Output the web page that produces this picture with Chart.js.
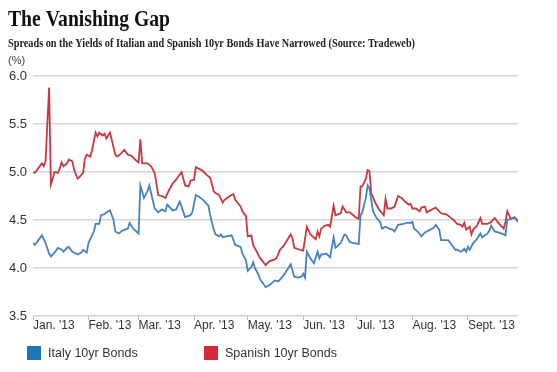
<!DOCTYPE html>
<html><head><meta charset="utf-8">
<script src="https://cdn.jsdelivr.net/npm/chart.js@4.4.1/dist/chart.umd.min.js"></script>
<style>html,body{margin:0;padding:0;background:#fff;overflow:hidden}#wrap{width:557px;height:372px;position:relative}</style>
</head><body><div id="wrap"><canvas id="c" width="557" height="372"></canvas></div>
<script>
const TITLE = 'The Vanishing Gap';
const SUBTITLE = 'Spreads on the Yields of Italian and Spanish 10yr Bonds Have Narrowed (Source: Tradeweb)';
const UNIT = '(%)';
const monthLabels = ["Jan. '13", "Feb. '13", "Mar. '13", "Apr. '13", "May. '13", "Jun. '13", "Jul. '13", "Aug. '13", "Sept. '13"];
const monthStartDays = [0, 31, 59, 90, 120, 151, 181, 212, 243];
const yTicks = [3.5, 4.0, 4.5, 5.0, 5.5, 6.0];
const seriesNames = ['Italy 10yr Bonds', 'Spanish 10yr Bonds'];

// day offsets from 1 Jan 2013 and yields (%)
const italyDays = [0,1,3,5,7,9,10,12,14,16,17,19,20,22,25,27,28,30,31,32,34,35,37,38,40,41,43,45,46,48,50,53,54,56,59,60,62,64,65,68,70,72,74,75,77,78,80,82,85,88,89,91,93,95,98,99,101,102,104,105,106,108,111,112,113,116,117,119,120,122,123,124,126,127,130,132,134,135,137,139,141,144,146,148,150,151,152,153,155,157,159,160,161,164,166,168,169,172,174,175,177,179,182,183,184,186,187,188,190,192,194,195,197,199,201,202,204,207,209,211,212,213,215,217,219,222,224,225,227,228,230,232,234,236,237,239,240,241,242,243,244,246,248,250,251,254,255,256,258,260,263,264,265,268,269,271];
const italyYield = [4.26,4.24,4.29,4.34,4.26,4.15,4.12,4.16,4.21,4.19,4.17,4.21,4.22,4.17,4.14,4.16,4.19,4.16,4.26,4.30,4.38,4.46,4.46,4.55,4.56,4.58,4.60,4.50,4.38,4.36,4.39,4.41,4.47,4.41,4.36,4.86,4.73,4.80,4.86,4.62,4.58,4.61,4.59,4.66,4.62,4.60,4.61,4.69,4.53,4.55,4.58,4.76,4.74,4.71,4.65,4.55,4.40,4.35,4.33,4.35,4.32,4.33,4.34,4.29,4.24,4.22,4.15,4.08,3.97,4.01,4.06,4.00,3.93,3.88,3.80,3.82,3.85,3.87,3.86,3.90,3.95,4.04,3.91,3.90,3.91,3.94,3.90,4.17,4.10,4.05,4.17,4.10,4.14,4.15,4.11,4.32,4.21,4.26,4.35,4.34,4.27,4.26,4.25,4.55,4.58,4.73,4.86,4.83,4.59,4.52,4.48,4.41,4.43,4.41,4.40,4.38,4.45,4.46,4.47,4.47,4.48,4.41,4.38,4.33,4.37,4.40,4.42,4.45,4.40,4.29,4.29,4.29,4.24,4.19,4.19,4.17,4.18,4.20,4.17,4.22,4.19,4.26,4.30,4.36,4.32,4.36,4.39,4.44,4.38,4.37,4.35,4.34,4.50,4.52,4.52,4.50];
const spainDays = [0,1,3,5,6,7,9,10,11,12,14,15,16,17,19,20,22,23,25,26,28,29,30,32,33,34,35,36,37,39,40,41,42,43,46,47,49,51,53,55,57,59,60,61,64,66,68,70,72,74,76,78,80,83,85,87,88,90,91,92,95,97,99,101,102,104,106,107,110,112,113,116,117,119,120,122,123,125,127,130,132,135,136,138,140,141,144,145,146,149,151,153,155,158,159,160,161,163,165,166,168,169,172,173,175,177,179,180,182,183,184,186,187,188,189,191,193,196,197,198,200,202,204,206,208,210,211,212,214,216,217,219,220,222,225,226,228,231,233,235,237,239,240,241,242,244,245,246,248,250,251,254,256,258,260,263,264,265,267,269,270,271];
const spainYield = [5.00,4.99,5.04,5.09,5.06,5.11,5.88,4.87,4.93,5.00,4.99,5.04,5.10,5.06,5.09,5.13,5.11,5.02,4.93,4.95,4.99,5.14,5.18,5.16,5.23,5.32,5.41,5.37,5.41,5.38,5.40,5.35,5.38,5.41,5.18,5.16,5.19,5.23,5.18,5.17,5.13,5.10,5.34,5.09,5.09,5.06,4.99,4.76,4.75,4.73,4.81,4.88,4.92,5.00,4.86,4.85,4.91,4.92,5.05,5.04,5.01,4.97,4.94,4.80,4.78,4.76,4.68,4.71,4.75,4.77,4.71,4.64,4.59,4.54,4.33,4.34,4.24,4.17,4.10,4.03,4.07,4.09,4.10,4.19,4.23,4.26,4.35,4.31,4.21,4.19,4.18,4.43,4.35,4.30,4.38,4.33,4.41,4.44,4.45,4.43,4.65,4.55,4.57,4.64,4.58,4.58,4.55,4.53,4.51,4.85,4.85,4.93,5.02,5.01,4.78,4.69,4.62,4.55,4.72,4.62,4.62,4.64,4.75,4.73,4.69,4.66,4.67,4.62,4.62,4.59,4.63,4.64,4.58,4.60,4.63,4.61,4.57,4.56,4.53,4.50,4.46,4.45,4.43,4.47,4.40,4.43,4.35,4.40,4.44,4.52,4.46,4.46,4.48,4.52,4.47,4.41,4.48,4.59,4.51,4.53,4.51,4.48];

const lineColors = ['#4682c3', '#c9383f'];
const legendColors = ['#1f74b6', '#d6283b'];

const toPoints = (xs, ys) => xs.map((x, i) => ({ x: x, y: ys[i] }));

const headerPlugin = {
  id: 'header',
  afterDraw(chart) {
    const ctx = chart.ctx;
    ctx.save();
    ctx.textBaseline = 'alphabetic';
    ctx.textAlign = 'left';
    const fitText = (txt, font, color, x, y, w) => {
      ctx.font = font;
      ctx.fillStyle = color;
      const m = ctx.measureText(txt).width;
      ctx.save();
      ctx.translate(x, y);
      ctx.scale(w / m, 1);
      ctx.fillText(txt, 0, 0);
      ctx.restore();
    };
    fitText(TITLE, 'bold 23px "Liberation Serif", serif', '#111', 8, 26, 162);
    fitText(SUBTITLE, 'bold 13px "Liberation Serif", serif', '#222', 8, 47, 407);
    ctx.font = '11px "Liberation Sans", Arial, sans-serif';
    ctx.fillStyle = '#444';
    ctx.fillText(UNIT, 8, 64);
    // legend
    const boxX = [27, 204];
    ctx.font = '12.5px "Liberation Sans", Arial, sans-serif';
    ctx.textBaseline = 'middle';
    chart.data.datasets.forEach((ds, i) => {
      ctx.fillStyle = legendColors[i];
      ctx.fillRect(boxX[i], 346, 14, 14);
      ctx.fillStyle = '#333';
      ctx.fillText(ds.label, boxX[i] + 21, 353.5);
    });
    ctx.restore();
  }
};

new Chart(document.getElementById('c'), {
  type: 'line',
  data: {
    datasets: [
      { label: seriesNames[0], data: toPoints(italyDays, italyYield), borderColor: lineColors[0], borderWidth: 1.8, pointRadius: 0, tension: 0, fill: false },
      { label: seriesNames[1], data: toPoints(spainDays, spainYield), borderColor: lineColors[1], borderWidth: 1.8, pointRadius: 0, tension: 0, fill: false }
    ]
  },
  options: {
    responsive: false,
    animation: false,
    devicePixelRatio: 1,
    layout: { padding: { left: 8, top: 76, right: 39, bottom: 34 } },
    plugins: { legend: { display: false }, title: { display: false }, tooltip: { enabled: false } },
    scales: {
      x: {
        type: 'linear', min: 0, max: 271,
        afterBuildTicks: s => { s.ticks = monthStartDays.map(v => ({ value: v })); },
        afterFit: s => { s.height = 22; s.paddingLeft = 0; s.paddingRight = 0; },
        ticks: {
          autoSkip: false, maxRotation: 0, align: 'start', padding: 0,
          color: '#333', font: { family: '"Liberation Sans Narrow", "Liberation Sans", Arial, sans-serif', size: 12, lineHeight: 1 },
          callback: (v, i) => monthLabels[i]
        },
        grid: { drawOnChartArea: false, drawTicks: true, tickLength: 4, color: '#bdbdbd', lineWidth: 1 },
        border: { display: false }
      },
      y: {
        min: 3.5, max: 6.0,
        afterBuildTicks: s => { s.ticks = yTicks.map(v => ({ value: v })); },
        afterFit: s => { s.width = 25; s.paddingTop = 0; s.paddingBottom = 0; },
        ticks: {
          padding: 6, color: '#333',
          font: { family: '"Liberation Sans Narrow", "Liberation Sans", Arial, sans-serif', size: 13 },
          callback: v => Number(v).toFixed(1)
        },
        grid: { color: '#d6d6d6', lineWidth: 1.5, drawTicks: false },
        border: { display: false }
      }
    }
  },
  plugins: [headerPlugin]
});
</script>
</body></html>
